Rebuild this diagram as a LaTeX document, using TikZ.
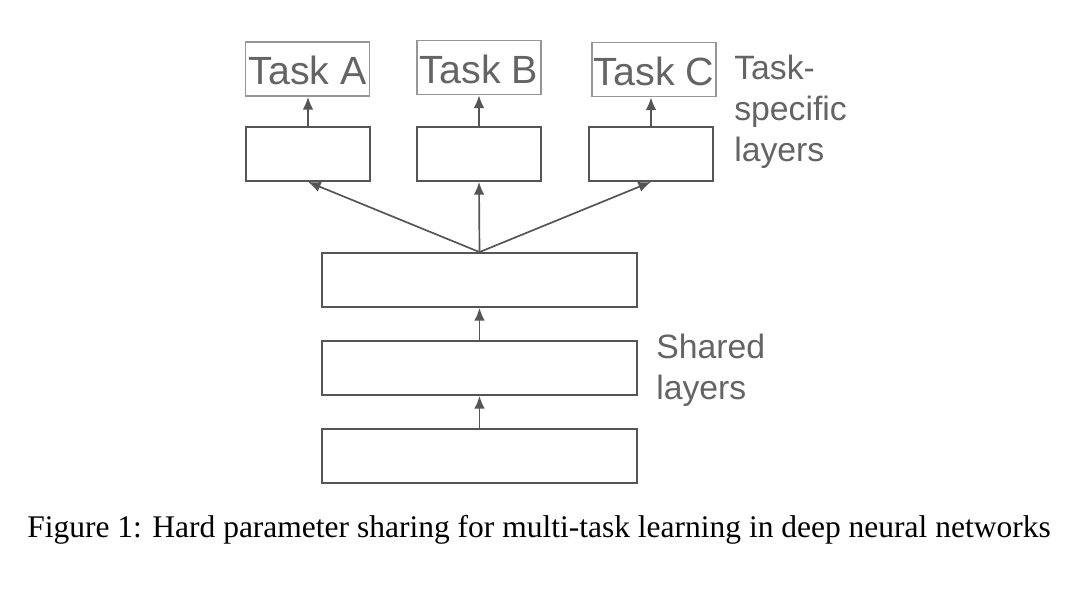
\documentclass[tikz,border=0pt]{standalone}
\usepackage{fontspec}
\setmainfont{Liberation Serif}
\newfontfamily\labelfont{Liberation Sans}
\usepackage{tikz}
\usetikzlibrary{arrows,arrows.meta}
\definecolor{linegray}{RGB}{85,85,85}
\definecolor{taskgray}{RGB}{150,150,150}
\definecolor{textgray}{RGB}{100,100,100}
\tikzset{
  layer/.style={draw=linegray, line width=1.3pt, minimum width=124\pxu, minimum height=54\pxu, inner sep=0pt},
  wide/.style={layer, minimum width=315\pxu},
  task/.style={draw=taskgray, line width=1.2pt, minimum width=124\pxu, minimum height=54\pxu, inner sep=0pt,
    text=textgray, text height=22.7pt, text depth=0pt, font=\labelfont\fontsize{28}{30}\selectfont},
  side/.style={text=textgray, align=left, anchor=west, inner sep=0pt,
    font=\labelfont\fontsize{24}{29}\selectfont},
  up/.style={-{Latex[length=9pt,width=7.5pt]}, draw=linegray, line width=1.2pt}
}
\newcommand{\pxu}{mm*0.25}
\begin{document}
\begin{tikzpicture}[>=latex, x=0.025cm, y=-0.025cm]
	\useasboundingbox (0,0) rectangle (1080,589);
%	shared layers
	\node [wide] (shared1) at (479.5,280) {};
	\node [wide] (shared2) at (479.5,368) {};
	\node [wide] (shared3) at (479.5,456) {};
%	task-specific layers
	\node [layer] (specA) at (308,154) {};
	\node [layer] (specB) at (479,154) {};
	\node [layer] (specC) at (651,154) {};
	\node [task] (taskA) at (307.5,69) {Task A};
	\node [task] (taskB) at (479,67.5) {Task B};
	\node [task] (taskC) at (654,69.5) {Task C};
%	connectors
	\draw [up] (shared3.north) -- (shared2.south);
	\draw [up] (shared2.north) -- (shared1.south);
	\draw [up] (shared1.north) -- (specA.south);
	\draw [up] (shared1.north) -- (specB.south);
	\draw [up] (shared1.north) -- (specC.south);
	\draw [up] (specA.north) -- (specA.north |- taskA.south);
	\draw [up] (specB.north) -- (taskB.south);
	\draw [up] (specC.north) -- (specC.north |- taskC.south);
%	labels
	\node [side] (tasklbl) at (734,112) {Task-\\specific\\layers};
	\node [side] (sharedlbl) at (656,370) {Shared\\layers};
	\node [font=\fontsize{22.4}{24}\selectfont, inner sep=0pt] (caption) at (539,530)
		{Figure 1: Hard parameter sharing for multi-task learning in deep neural networks};
\end{tikzpicture}
\end{document}
